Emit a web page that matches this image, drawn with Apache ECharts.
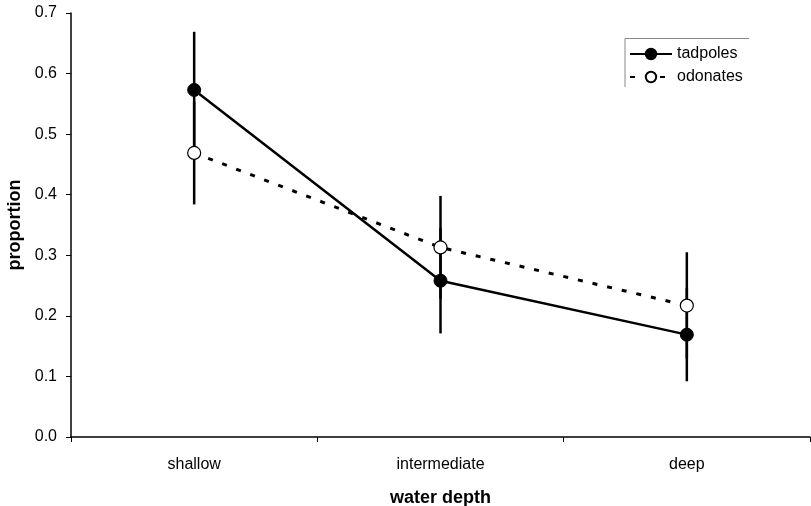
<!DOCTYPE html>
<html><head><meta charset="utf-8">
<script src="https://cdn.jsdelivr.net/npm/echarts@6/dist/echarts.min.js"></script>
<style>html,body{margin:0;padding:0;background:#fff}#c{width:811px;height:506px}</style>
</head><body><div id="c"></div>
<script>
const categories = ['shallow', 'intermediate', 'deep'];
const tadpoles = [0.573, 0.258, 0.169];
const tadpolesErr = [0.096, 0.087, 0.077];
const odonates = [0.469, 0.313, 0.217];
const odonatesErr = [0.085, 0.085, 0.088];
const yTicks = [0, 0.1, 0.2, 0.3, 0.4, 0.5, 0.6, 0.7];

const font = 'Liberation Sans, Arial, sans-serif';
const errData = [];
tadpoles.forEach((v, i) => errData.push([i, v - tadpolesErr[i], v + tadpolesErr[i]]));
odonates.forEach((v, i) => errData.push([i, v - odonatesErr[i], v + odonatesErr[i]]));

const chart = echarts.init(document.getElementById('c'));
chart.setOption({
  animation: false,
  backgroundColor: '#fff',
  grid: { left: 71, right: 1, top: 13, bottom: 69, containLabel: false, outerBoundsMode: 'none' },
  xAxis: {
    type: 'category', data: categories, boundaryGap: true,
    name: 'water depth', nameLocation: 'middle', nameGap: 52,
    nameTextStyle: { fontFamily: font, fontSize: 18, fontWeight: 'bold', color: '#000' },
    axisLine: { lineStyle: { color: '#000', width: 1.5 } },
    axisTick: { show: true, alignWithLabel: false, length: 5, lineStyle: { color: '#000' } },
    axisLabel: { fontFamily: font, fontSize: 16, color: '#000', margin: 20 },
    splitLine: { show: false }
  },
  yAxis: {
    type: 'value', min: 0, max: 0.7, interval: 0.1,
    name: 'proportion', nameLocation: 'middle', nameGap: 44,
    nameTextStyle: { fontFamily: font, fontSize: 18, fontWeight: 'bold', color: '#000' },
    axisLine: { show: true, lineStyle: { color: '#000', width: 1.5 } },
    axisTick: { show: true, length: 5, lineStyle: { color: '#000' } },
    axisLabel: { fontFamily: font, fontSize: 16, color: '#000', margin: 14,
      formatter: v => { const t = yTicks.find(x => Math.abs(x - v) < 1e-9); return (t !== undefined ? t : v).toFixed(1); } },
    splitLine: { show: false }
  },
  legend: {
    orient: 'vertical', left: 624, top: 41,
    itemWidth: 42, itemHeight: 13, itemGap: 7,
    textStyle: { fontFamily: font, fontSize: 16, color: '#000' },
    data: ['tadpoles', 'odonates']
  },
  graphic: [
    { type: 'polyline', shape: { points: [[625, 87], [625, 38.5], [749, 38.5]] },
      style: { stroke: '#888', lineWidth: 1, fill: null }, silent: true }
  ],
  series: [
    {
      type: 'custom', name: 'err', z: 1,
      data: errData,
      renderItem: (params, api) => {
        const a = api.coord([api.value(0), api.value(1)]);
        const b = api.coord([api.value(0), api.value(2)]);
        return { type: 'line', shape: { x1: a[0], y1: a[1], x2: b[0], y2: b[1] },
          style: { stroke: '#000', lineWidth: 2.5 } };
      }
    },
    {
      type: 'line', name: 'tadpoles', data: tadpoles, z: 3,
      symbol: 'circle', symbolSize: 13,
      lineStyle: { color: '#000', width: 2.5 },
      itemStyle: { color: '#000', borderColor: '#000', borderWidth: 1 }
    },
    {
      type: 'line', name: 'odonates', data: odonates, z: 3,
      symbol: 'circle', symbolSize: 13,
      lineStyle: { color: '#000', width: 3, type: [5, 10] },
      itemStyle: { color: '#fff', borderColor: '#000', borderWidth: 1.2 }
    }
  ]
});
</script></body></html>
